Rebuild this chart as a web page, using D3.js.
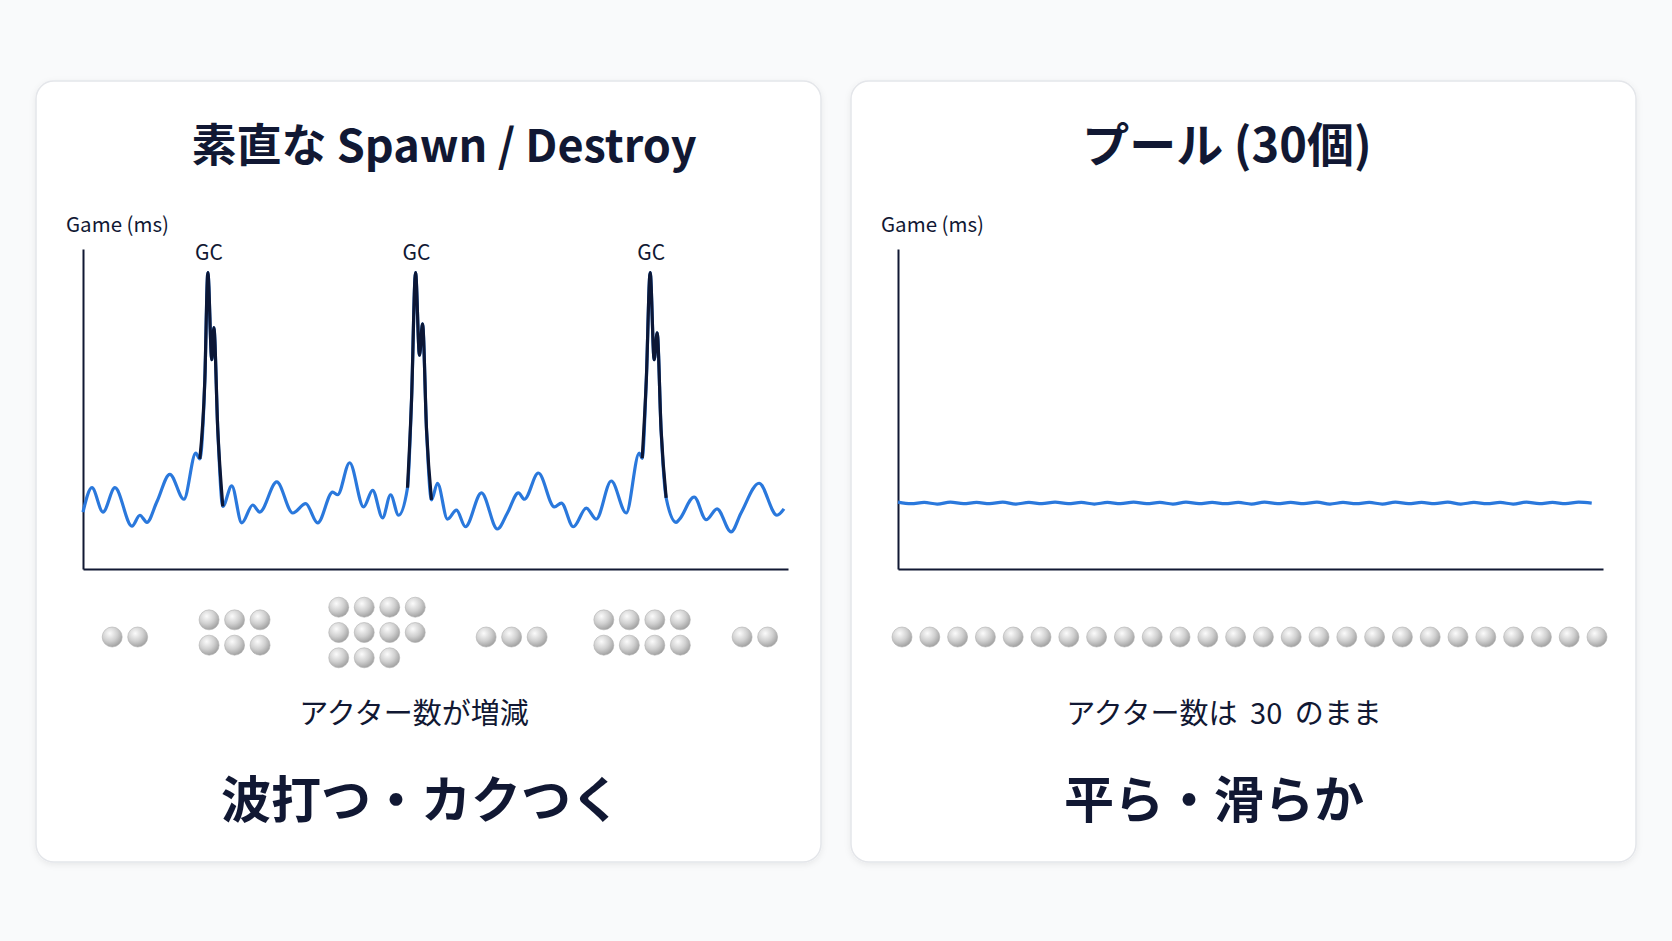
<!DOCTYPE html>
<html lang="ja">
<head>
<meta charset="utf-8">
<script src="https://cdn.jsdelivr.net/npm/d3@7"></script>
<style>
  html, body { margin: 0; padding: 0; background: #f9fafb; }
  svg { display: block; font-family: "Noto Sans CJK JP", "Noto Sans", sans-serif; }
</style>
</head>
<body>
<script>
// naive Spawn / Destroy: frame position (0-100) and Game thread time (ms)
const naiveT = [0, 1.27, 2.83, 4.53, 6.94, 8.07, 9.07, 10.48, 12.32, 14.31, 16.0, 16.57, 17.28, 17.71, 18.27, 18.56, 19.12, 19.83,
  21.1, 22.52, 24.08, 25.07, 27.48, 29.75, 31.59, 33.29, 35.41, 36.12, 37.82, 39.8, 41.08, 42.49, 43.63, 44.76,
  46.03, 46.6, 47.17, 47.73, 48.16, 48.73, 49.43, 50.28, 51.7, 52.97, 54.25, 56.52, 58.78, 60.2, 61.76, 62.61,
  64.59, 66.86, 67.85, 69.55, 71.39, 72.8, 74.93, 77.05, 78.9, 79.32, 79.9, 80.45, 81.02, 81.44, 82.0, 82.72,
  84.14, 84.56, 86.69, 88.39, 89.94, 91.93, 93.34, 95.89, 98.44, 99.43];
const naiveMs = [8.9, 12.7, 8.9, 12.7, 6.7, 8.4, 7.3, 10.5, 14.8, 10.9, 18.1, 17.2, 29.5, 46.3, 32.7, 37.7, 21.7, 9.8,
  13.0, 7.2, 10.0, 8.9, 13.6, 8.75, 10.2, 7.2, 12.0, 11.6, 16.6, 9.7, 12.3, 8.0, 11.6, 8.4,
  12.7, 26.4, 46.3, 33.4, 38.3, 21.7, 10.8, 13.4, 7.8, 9.2, 6.6, 11.9, 6.25, 8.75, 11.9, 10.9,
  15.0, 9.7, 10.3, 6.6, 9.5, 7.8, 13.75, 8.75, 18.1, 17.3, 29.5, 46.3, 32.7, 36.9, 21.7, 11.1,
  7.3, 7.7, 11.25, 7.7, 9.4, 5.8, 8.75, 13.4, 8.4, 9.4];
// GC spikes: [first index, last index], and the index of each spike top
const gcRanges = [[11, 17], [34, 40], [59, 65]];
const gcPeaks = [13, 36, 61];
const gcLabel = "GC";

// pooled run: Game thread time (ms), nearly flat
const poolMs = [10.45, 10.2, 10.4, 10.15, 10.45, 10.2, 10.4, 10.2, 10.45, 10.15, 10.4, 10.2, 10.45, 10.2, 10.4, 10.15,
  10.4, 10.2, 10.45, 10.2, 10.4, 10.15, 10.45, 10.2, 10.4, 10.2, 10.4, 10.15, 10.45, 10.2, 10.4, 10.2,
  10.45, 10.15, 10.4, 10.2, 10.4, 10.15, 10.45, 10.2, 10.4, 10.2, 10.45, 10.15, 10.4, 10.2, 10.4, 10.15,
  10.45, 10.2, 10.4, 10.2, 10.45, 10.3];
const poolEndT = 98.4;

// actors alive in each phase of the naive run
const phaseT = [5.95, 21.5, 41.7, 60.8, 79.3, 95.3];
const phaseActors = [2, 6, 11, 3, 8, 2];
const phaseCols = [2, 3, 4, 3, 4, 2];
const poolActors = 26;

const yLabel = "Game (ms)";
const titles = ["素直な Spawn / Destroy", "プール (30個)"];
const captions = ["アクター数が増減", "アクター数は 30 のまま"];
const verdicts = ["波打つ・カクつく", "平ら・滑らか"];

const W = 1672, H = 941;
const navy = "#111833", blue = "#2a78dc", dark = "#0c1736";

const svg = d3.select("body").append("svg")
  .attr("width", W).attr("height", H);

const defs = svg.append("defs");
const grad = defs.append("radialGradient").attr("id", "ball")
  .attr("cx", "38%").attr("cy", "32%").attr("r", "70%");
grad.append("stop").attr("offset", "0%").attr("stop-color", "#fbfbfb");
grad.append("stop").attr("offset", "55%").attr("stop-color", "#d0d0d0");
grad.append("stop").attr("offset", "100%").attr("stop-color", "#a0a0a0");

const shadow = defs.append("filter").attr("id", "shadow")
  .attr("x", "-5%").attr("y", "-5%").attr("width", "110%").attr("height", "110%");
shadow.append("feDropShadow").attr("dx", 0).attr("dy", 2).attr("stdDeviation", 3)
  .attr("flood-color", "#000").attr("flood-opacity", 0.07);

// panel layout
const panels = [
  { x0: 36, titleX: 444, titleSize: 45, capX: 414, verdictX: 421 },
  { x0: 851, titleX: 1227, titleSize: 47, capX: 1224, verdictX: 1214 }
];
const cardY = 81, cardW = 785, cardH = 781;
const plotLeft = 47, plotW = 705, plotTop = 249, plotBottom = 569;

panels.forEach((p, i) => {
  const g = svg.append("g");

  g.append("rect")
    .attr("x", p.x0).attr("y", cardY)
    .attr("width", cardW).attr("height", cardH)
    .attr("rx", 18)
    .attr("fill", "#ffffff")
    .attr("stroke", "#e4e6ea")
    .attr("stroke-width", 1.5)
    .attr("filter", "url(#shadow)");

  g.append("text")
    .attr("x", p.titleX).attr("y", 162)
    .attr("text-anchor", "middle")
    .attr("font-size", p.titleSize).attr("font-weight", 700)
    .attr("fill", navy)
    .text(titles[i]);

  const x = d3.scaleLinear().domain([0, 100]).range([p.x0 + plotLeft, p.x0 + plotLeft + plotW]);
  const y = d3.scaleLinear().domain([0, 50]).range([plotBottom, plotTop]);

  g.append("text")
    .attr("x", p.x0 + plotLeft - 17).attr("y", 232)
    .attr("font-size", 20.5).attr("fill", navy)
    .text(yLabel);

  g.append("g")
    .attr("transform", `translate(${x(0)},0)`)
    .call(d3.axisLeft(y).tickValues([]).tickSizeOuter(0))
    .select(".domain").attr("stroke", navy).attr("stroke-width", 2);

  g.append("g")
    .attr("transform", `translate(0,${y(0)})`)
    .call(d3.axisBottom(x).tickValues([]).tickSizeOuter(0))
    .select(".domain").attr("stroke", navy).attr("stroke-width", 2);

  const line = d3.line()
    .x(d => x(d.t)).y(d => y(d.v))
    .curve(d3.curveMonotoneX);

  if (i === 0) {
    const pts = naiveT.map((t, k) => ({ t, v: naiveMs[k] }));
    g.append("path").datum(pts)
      .attr("d", line)
      .attr("fill", "none").attr("stroke", blue)
      .attr("stroke-width", 3.2).attr("stroke-linejoin", "round");

    gcRanges.forEach(([a, b]) => {
      g.append("path").datum(pts.slice(a, b + 1))
        .attr("d", line)
        .attr("fill", "none").attr("stroke", dark)
        .attr("stroke-width", 3.2).attr("stroke-linejoin", "round");
    });

    g.selectAll(".gc").data(gcPeaks).join("text")
      .attr("x", k => x(naiveT[k]) + 1)
      .attr("y", 260)
      .attr("text-anchor", "middle")
      .attr("font-size", 21).attr("fill", navy)
      .text(gcLabel);

    // actor balls, one cluster per phase
    const balls = [];
    phaseActors.forEach((n, gi) => {
      const cols = phaseCols[gi];
      const rows = Math.ceil(n / cols);
      const cy0 = rows === 1 ? 637 : 632.5;
      for (let k = 0; k < n; k++) {
        const c = k % cols, r = Math.floor(k / cols);
        balls.push({
          cx: x(phaseT[gi]) + (c - (cols - 1) / 2) * 25.5,
          cy: cy0 + (r - (rows - 1) / 2) * 25.3
        });
      }
    });
    g.selectAll(".ball").data(balls).join("circle")
      .attr("cx", d => d.cx).attr("cy", d => d.cy).attr("r", 10)
      .attr("fill", "url(#ball)").attr("stroke", "#b0b0b0").attr("stroke-width", 0.6);
  } else {
    const step = poolEndT / (poolMs.length - 1);
    const pts = poolMs.map((v, k) => ({ t: k * step, v }));
    g.append("path").datum(pts)
      .attr("d", line)
      .attr("fill", "none").attr("stroke", blue)
      .attr("stroke-width", 3.2).attr("stroke-linejoin", "round");

    const bx = d3.scaleLinear().domain([0, poolActors - 1]).range([902, 1597]);
    g.selectAll(".ball").data(d3.range(poolActors)).join("circle")
      .attr("cx", d => bx(d)).attr("cy", 637).attr("r", 10)
      .attr("fill", "url(#ball)").attr("stroke", "#b0b0b0").attr("stroke-width", 0.6);
  }

  g.append("text")
    .attr("x", p.capX).attr("y", 724)
    .attr("text-anchor", "middle")
    .attr("font-size", 29).attr("fill", navy)
    .attr("word-spacing", 6)
    .text(captions[i]);

  g.append("text")
    .attr("x", p.verdictX).attr("y", 818)
    .attr("text-anchor", "middle")
    .attr("font-size", 50).attr("font-weight", 700)
    .attr("fill", navy)
    .text(verdicts[i]);
});
</script>
</body>
</html>
